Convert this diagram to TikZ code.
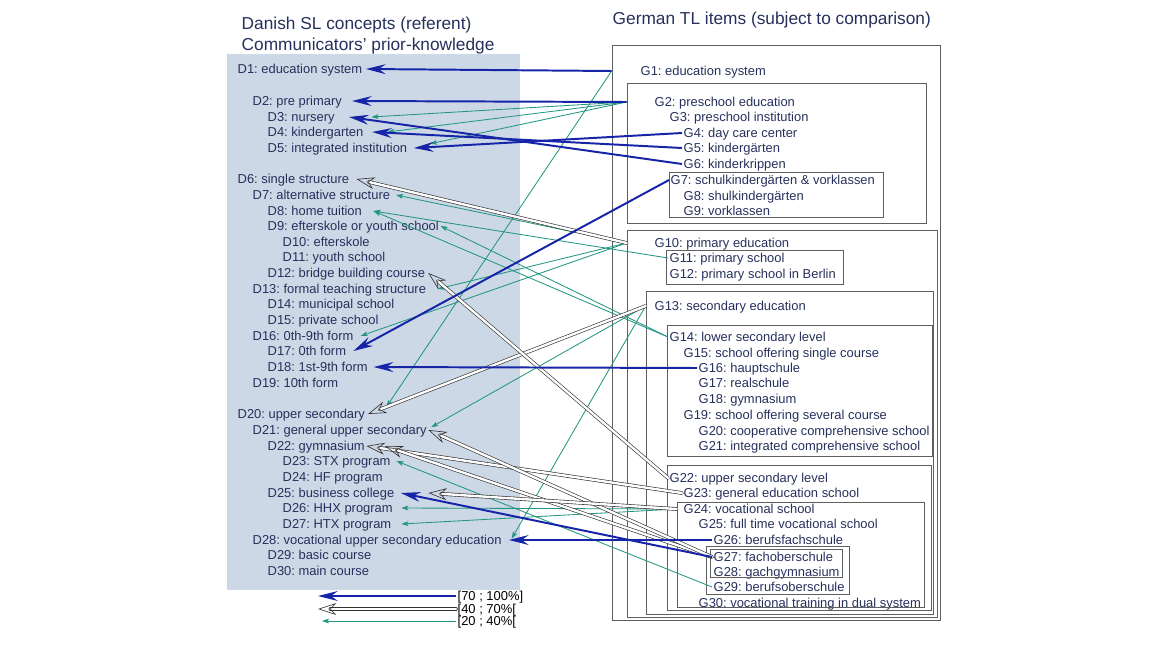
\documentclass[tikz,border=0pt]{standalone}
\usepackage{fontspec}
\setmainfont{Liberation Sans}
\frenchspacing
\usetikzlibrary{arrows.meta,fit,positioning}
\definecolor{ink}{RGB}{38,48,92}
\definecolor{panel}{RGB}{205,216,230}
\definecolor{strong}{RGB}{22,36,168}
\definecolor{weak}{RGB}{34,150,128}
\definecolor{frame}{RGB}{95,95,95}
\tikzset{
	lab/.style={anchor=west, inner sep=1pt, text=ink, text height=6.6pt, text depth=0pt, font=\fontsize{9.2}{11}\selectfont},
	head/.style={anchor=west, inner sep=1pt, text=ink, font=\fontsize{12.3}{14}\selectfont},
	grp/.style={draw=frame, line width=0.5pt, inner sep=0pt},
	hi/.style={strong, line width=1.4pt, -{Stealth[length=14pt,width=7pt,inset=4.8pt]}},
	mid/.style={draw=black!80, double=white, double distance=1.7pt, line width=0.45pt, line cap=round, -{Stealth[open,length=13pt,width=8.5pt,inset=4pt]}},
	lo/.style={weak, line width=0.6pt, -{Stealth[length=5pt,width=3.4pt,inset=1.2pt]}},
}
\begin{document}
\begin{tikzpicture}[x=0.025cm, y=-0.025cm]
	\useasboundingbox (0,0) rectangle (1164,650);
	\fill[panel] (227,54) rectangle (520,590);

	% headings
	\node[head] (hda) at (240,25) {Danish SL concepts (referent)};
	\node[head] (hdb) at (240,46) {Communicators’ prior-knowledge};
	\node[head] (hge) at (611,20) {German TL items (subject to comparison)};

	% Danish concepts
	\node[lab] (d1) at (236,69) {D1: education system};
	\node[lab] (d2) at (251,101) {D2: pre primary};
	\node[lab] (d3) at (266,117) {D3: nursery};
	\node[lab] (d4) at (266,132) {D4: kindergarten};
	\node[lab] (d5) at (266,148) {D5: integrated institution};
	\node[lab] (d6) at (236,179) {D6: single structure};
	\node[lab] (d7) at (251,195) {D7: alternative structure};
	\node[lab] (d8) at (266,211) {D8: home tuition};
	\node[lab] (d9) at (266,226) {D9: efterskole or youth school};
	\node[lab] (d10) at (281,242) {D10: efterskole};
	\node[lab] (d11) at (281,257) {D11: youth school};
	\node[lab] (d12) at (266,273) {D12: bridge building course};
	\node[lab] (d13) at (251,289) {D13: formal teaching structure};
	\node[lab] (d14) at (266,304) {D14: municipal school};
	\node[lab] (d15) at (266,320) {D15: private school};
	\node[lab] (d16) at (251,336) {D16: 0th-9th form};
	\node[lab] (d17) at (266,351) {D17: 0th form};
	\node[lab] (d18) at (266,367) {D18: 1st-9th form};
	\node[lab] (d19) at (251,383) {D19: 10th form};
	\node[lab] (d20) at (236,414) {D20: upper secondary};
	\node[lab] (d21) at (251,430) {D21: general upper secondary};
	\node[lab] (d22) at (266,446) {D22: gymnasium};
	\node[lab] (d23) at (281,461) {D23: STX program};
	\node[lab] (d24) at (281,477) {D24: HF program};
	\node[lab] (d25) at (266,493) {D25: business college};
	\node[lab] (d26) at (281,508) {D26: HHX program};
	\node[lab] (d27) at (281,524) {D27: HTX program};
	\node[lab] (d28) at (251,540) {D28: vocational upper secondary education};
	\node[lab] (d29) at (266,555) {D29: basic course};
	\node[lab] (d30) at (266,571) {D30: main course};

	% German items
	\node[lab] (g1) at (639,71) {G1: education system};
	\node[lab] (g2) at (653,102) {G2: preschool education};
	\node[lab] (g3) at (668,117) {G3: preschool institution};
	\node[lab] (g4) at (682,133) {G4: day care center};
	\node[lab] (g5) at (682,148) {G5: kindergärten};
	\node[lab] (g6) at (682,164) {G6: kinderkrippen};
	\node[lab] (g7) at (669,180) {G7: schulkindergärten \& vorklassen};
	\node[lab] (g8) at (682,196) {G8: shulkindergärten};
	\node[lab] (g9) at (682,211) {G9: vorklassen};
	\node[lab] (g10) at (653,243) {G10: primary education};
	\node[lab] (g11) at (668,258) {G11: primary school};
	\node[lab] (g12) at (668,274) {G12: primary school in Berlin};
	\node[lab] (g13) at (653,306) {G13: secondary education};
	\node[lab] (g14) at (668,337) {G14: lower secondary level};
	\node[lab] (g15) at (682,353) {G15: school offering single course};
	\node[lab] (g16) at (697,368) {G16: hauptschule};
	\node[lab] (g17) at (697,383) {G17: realschule};
	\node[lab] (g18) at (697,399) {G18: gymnasium};
	\node[lab] (g19) at (682,415) {G19: school offering several course};
	\node[lab] (g20) at (697,431) {G20: cooperative comprehensive school};
	\node[lab] (g21) at (697,446) {G21: integrated comprehensive school};
	\node[lab] (g22) at (668,478) {G22: upper secondary level};
	\node[lab] (g23) at (682,493) {G23: general education school};
	\node[lab] (g24) at (682,509) {G24: vocational school};
	\node[lab] (g25) at (697,524) {G25: full time vocational school};
	\node[lab] (g26) at (712,540) {G26: berufsfachschule};
	\node[lab] (g27) at (712,557) {G27: fachoberschule};
	\node[lab] (g28) at (712,572) {G28: gachgymnasium};
	\node[lab] (g29) at (712,587) {G29: berufsoberschule};
	\node[lab] (g30) at (697,603) {G30: vocational training in dual system};

	% nested groups
	\node[grp, fit={(612,45) (940,620)}] (bsys) {};
	\node[grp, fit={(627,83) (926,223)}] (bpre) {};
	\node[grp, fit={(669,172) (883,217)}] (bsch) {};
	\node[grp, fit={(627,230) (937,617)}] (bpri) {};
	\node[grp, fit={(666,250) (843,284)}] (bps) {};
	\node[grp, fit={(646,291) (933,614)}] (bsec) {};
	\node[grp, fit={(667,325) (932,456)}] (blow) {};
	\node[grp, fit={(667,465) (931,610)}] (bupp) {};
	\node[grp, fit={(677,502) (924,607)}] (bvoc) {};
	\node[grp, fit={(706,546) (849,594)}] (bfos) {};
	\node[grp, fit={(710,549) (842,577)}] (bfach) {};

	% [20 ; 40%[
	\draw[lo] (g1 -| bsys.west) -- ([xshift=14pt,yshift=5pt]d20.east);
	\draw[lo] (g2 -| bpre.west) -- ([xshift=25pt]d3.east);
	\draw[lo] (g2 -| bpre.west) -- ([xshift=16pt]d4.east);
	\draw[lo] (g2 -| bpre.west) -- ([xshift=15pt,yshift=3pt]d5.east);
	\draw[lo] (g10 -| bpri.west) -- ([xshift=3pt]d7.east);
	\draw[lo] (g10 -| bpri.west) -- ([xshift=7pt]d13.east);
	\draw[lo] (g10 -| bpri.west) -- ([xshift=4pt]d16.east);
	\draw[lo] (g11.west) -- ([xshift=7pt]d8.east);
	\draw[lo] (g14.west) -- ([xshift=7pt]d8.east);
	\draw[lo] (g14.west) -- (d9.east);
	\draw[lo] (g13 -| bsec.west) -- ([xshift=2pt,yshift=2pt]d21.east);
	\draw[lo] (g13 -| bsec.west) -- ([xshift=6pt,yshift=1pt]d28.east);
	\draw[lo] (g24 -| bvoc.west) -- ([xshift=5pt]d26.east);
	\draw[lo] (g24 -| bvoc.west) -- ([xshift=6pt]d27.east);
	\draw[lo] (g29.west) -- ([xshift=3pt]d23.east);

	% [40 ; 70%[
	\draw[mid] (g10 -| bpri.west) -- ([xshift=4pt]d6.east);
	\draw[mid] (g13 -| bsec.west) -- ([xshift=1pt]d20.east);
	\draw[mid] (g22.west) -- ([xshift=1pt]d12.east);
	\draw[mid] (g23.west) -- (d22.east);
	\draw[mid] (g27.west) -- ([xshift=13pt]d22.east);
	\draw[mid] (g27.west) -- (d21.east);
	\draw[mid] (g24 -| bvoc.west) -- ([xshift=23pt]d25.east);

	% [70 ; 100%]
	\draw[hi] (g1 -| bsys.west) -- ([xshift=1.5pt]d1.east);
	\draw[hi] (g2 -| bpre.west) -- ([xshift=6pt]d2.east);
	\draw[hi] (g6.west) -- ([xshift=9pt]d3.east);
	\draw[hi] (g5.west) -- ([xshift=5pt]d4.east);
	\draw[hi] (g4.west) -- ([xshift=3.5pt]d5.east);
	\draw[hi] (g7.west) -- ([xshift=4pt]d17.east);
	\draw[hi] (g16.west) -- ([xshift=3pt]d18.east);
	\draw[hi] (g27.west) -- ([xshift=3.5pt]d25.east);
	\draw[hi] (g26.west) -- ([xshift=4pt]d28.east);

	% legend
	\node[lab, text=black] (k1) at (456,596) {[70 ; 100\%]};
	\node[lab, text=black] (k2) at (456,609) {[40 ; 70\%[};
	\node[lab, text=black] (k3) at (456,621) {[20 ; 40\%[};
	\coordinate (k1e) at (318,596);
	\coordinate (k2e) at (318,609);
	\coordinate (k3e) at (322,621);
	\draw[hi] (k1.west) -- (k1e);
	\draw[mid] (k2.west) -- (k2e);
	\draw[lo] (k3.west) -- (k3e);
\end{tikzpicture}
\end{document}
